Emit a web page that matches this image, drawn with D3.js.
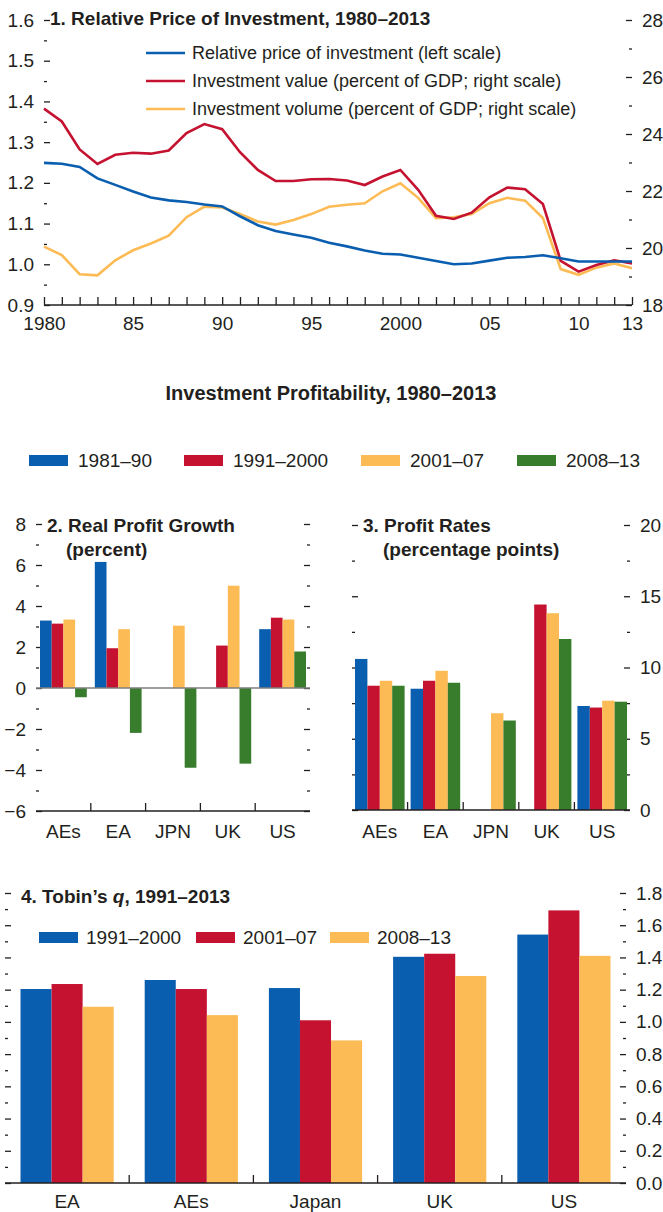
<!DOCTYPE html>
<html>
<head>
<meta charset="utf-8">
<script src="https://cdn.jsdelivr.net/npm/d3@7"></script>
<style>
  body { margin: 0; background: #fff; }
  svg text { font-family: "Liberation Sans Narrow", "Arial Narrow", sans-serif; fill: #231f20; }
  .eje line, .eje path { stroke: #231f20; stroke-width: 1.3; }
</style>
</head>
<body>
<svg id="graf" width="663" height="1212"></svg>
<script>
// -- Datos panel 1
anios = [1980,1981,1982,1983,1984,1985,1986,1987,1988,1989,1990,1991,1992,1993,1994,1995,1996,
         1997,1998,1999,2000,2001,2002,2003,2004,2005,2006,2007,2008,2009,2010,2011,2012,2013]
precioRel = [1.249,1.247,1.239,1.211,1.195,1.179,1.164,1.157,1.153,1.147,1.142,1.118,1.096,1.082,1.073,1.065,1.053,
             1.044,1.034,1.026,1.024,1.016,1.008,1.000,1.002,1.009,1.016,1.018,1.022,1.015,1.007,1.007,1.007,1.007]
invValor = [24.89,24.44,23.46,22.95,23.27,23.34,23.31,23.42,24.03,24.35,24.17,23.36,22.74,22.35,22.35,22.41,22.42,
            22.37,22.21,22.51,22.74,22.04,21.13,21.02,21.24,21.78,22.12,22.06,21.54,19.55,19.17,19.40,19.57,19.46]
invVolumen = [20.05,19.75,19.08,19.04,19.57,19.92,20.16,20.43,21.08,21.45,21.42,21.19,20.93,20.82,20.98,21.19,21.45,
              21.52,21.57,21.99,22.27,21.76,21.05,21.08,21.19,21.57,21.76,21.66,21.05,19.26,19.06,19.31,19.46,19.29]
leyenda1 = ['Relative price of investment (left scale)', 'Investment value (percent of GDP; right scale)', 'Investment volume (percent of GDP; right scale)']

// -- Datos paneles 2 y 3
periodos = ['1981–90', '1991–2000', '2001–07', '2008–13']
regiones = ['AEs', 'EA', 'JPN', 'UK', 'US']
crecimiento = [            // 1981–90, 1991–2000, 2001–07, 2008–13
  [3.29, 3.14, 3.34, -0.45],
  [6.15, 1.94, 2.87, -2.19],
  [null, null, 3.04, -3.89],
  [null, 2.07, 4.99, -3.69],
  [2.87, 3.43, 3.34, 1.78]
]
tasas = [
  [10.6, 8.72, 9.07, 8.72],
  [8.51, 9.07, 9.77, 8.93],
  [null, null, 6.79, 6.28],
  [null, 14.42, 13.81, 12.0],
  [7.30, 7.19, 7.67, 7.60]
]

// -- Datos panel 4
periodosQ = ['1991–2000', '2001–07', '2008–13']
paisesQ = ['EA', 'AEs', 'Japan', 'UK', 'US']
tobinQ = [
  [1.204, 1.235, 1.094],
  [1.260, 1.204, 1.042],
  [1.210, 1.010, 0.885],
  [1.404, 1.423, 1.285],
  [1.542, 1.692, 1.410]
]

azul = '#0a5eb0', rojo = '#c41230', naranja = '#fdbb55', verde = '#387d2c'
colores = [azul, rojo, naranja, verde]

svg = d3.select('#graf')
fnt = 19

// -- Ejes verticales con marcas hacia adentro
function ejeY(escala, x, lado, mayores, menores, etiquetas, fmt) {
  const dir = lado === 'left' ? d3.axisLeft : d3.axisRight
  const a = svg.append('g').attr('class', 'eje').attr('transform', `translate(${x},0)`)
    .call(dir(escala).tickValues(mayores).tickSize(-6).tickPadding(10)
      .tickFormat(etiquetas ? fmt : ''))
  a.select('.domain').remove()
  a.selectAll('text').style('font-size', `${fnt}px`)
  const b = svg.append('g').attr('class', 'eje').attr('transform', `translate(${x},0)`)
    .call(dir(escala).tickValues(menores).tickSize(-3).tickFormat(''))
  b.select('.domain').remove()
}

// ===================== Panel 1 =====================
x1 = d3.scaleLinear().domain([1980, 2013]).range([44, 632])
yIzq = d3.scaleLinear().domain([0.9, 1.6]).range([305, 20])
yDer = d3.scaleLinear().domain([18, 28]).range([305, 20])

ejeY(yIzq, 44, 'left', d3.range(0.9, 1.65, 0.1), d3.range(0.95, 1.6, 0.1), true, d3.format('.1f'))
ejeY(yDer, 632, 'right', d3.range(18, 29, 2), d3.range(19, 28, 2), true, d3.format('d'))

ejeX1 = svg.append('g').attr('class', 'eje').attr('transform', 'translate(0,305)')
  .call(d3.axisBottom(x1).tickValues(anios).tickSize(-8).tickPadding(12)
    .tickFormat(d => [1980, 1985, 1990, 1995, 2000, 2005, 2010, 2013].includes(d)
      ? (d === 1980 || d === 2000 ? d : String(d % 100).padStart(2, '0')) : ''))
ejeX1.selectAll('text').style('font-size', `${fnt}px`)
ejeX1.select('.domain').attr('d', 'M44,0H632')

series1 = [
  { v: invVolumen, y: yDer, c: naranja },
  { v: invValor, y: yDer, c: rojo },
  { v: precioRel, y: yIzq, c: azul }
]
series1.forEach(s => {
  svg.append('path')
    .datum(s.v)
    .attr('fill', 'none')
    .attr('stroke', s.c)
    .attr('stroke-width', 2.6)
    .attr('d', d3.line().x((d, i) => x1(anios[i])).y(d => s.y(d)))
})

svg.append('text').attr('x', 50).attr('y', 25)
  .attr('font-weight', 'bold').style('font-size', '19px')
  .text('1.  Relative Price of Investment, 1980–2013')

leyenda1.forEach((t, i) => {
  const yy = 53 + i * 28
  svg.append('line').attr('x1', 146).attr('x2', 185).attr('y1', yy).attr('y2', yy)
    .attr('stroke', [azul, rojo, naranja][i]).attr('stroke-width', 2.6)
  svg.append('text').attr('x', 192).attr('y', yy + 6).style('font-size', '18px').text(t)
})

// ===================== Título y leyenda común =====================
svg.append('text').attr('x', 331).attr('y', 400).attr('text-anchor', 'middle')
  .attr('font-weight', 'bold').style('font-size', '20px')
  .text('Investment Profitability, 1980–2013')

xLeg = [29, 184, 361, 517]
periodos.forEach((p, i) => {
  svg.append('rect').attr('x', xLeg[i]).attr('y', 455).attr('width', 39).attr('height', 11).attr('fill', colores[i])
  svg.append('text').attr('x', xLeg[i] + 49).attr('y', 467).style('font-size', '19px').text(p)
})

// -- Barras agrupadas
function barras(datos, cats, series, x0r, yEsc, padIn) {
  const x0 = d3.scaleBand().domain(cats).range(x0r)
  const xb = d3.scaleBand().domain(series).range([padIn, x0.bandwidth() - padIn])
  cats.forEach((c, i) => {
    series.forEach((s, j) => {
      const v = datos[i][j]
      if (v === null) return
      svg.append('rect')
        .attr('x', x0(c) + xb(s))
        .attr('width', xb.bandwidth())
        .attr('y', yEsc(Math.max(0, v)))
        .attr('height', Math.abs(yEsc(v) - yEsc(0)))
        .attr('fill', colores[j])
    })
  })
  return x0
}

function ejeCat(x0, y, yEtq, etiquetas) {
  const [a, b] = x0.range()
  svg.append('line').attr('x1', a).attr('x2', b).attr('y1', y).attr('y2', y)
    .attr('stroke', '#231f20').attr('stroke-width', 1.5)
  x0.domain().forEach((c, i) => {
    if (i > 0) svg.append('line').attr('x1', x0(c)).attr('x2', x0(c)).attr('y1', y).attr('y2', y - 8)
      .attr('stroke', '#231f20').attr('stroke-width', 1.3)
    svg.append('text').attr('x', x0(c) + x0.bandwidth() / 2).attr('y', yEtq)
      .attr('text-anchor', 'middle').style('font-size', `${fnt}px`).text(etiquetas[i])
  })
}

// ===================== Panel 2 =====================
y2 = d3.scaleLinear().domain([-6, 8]).range([811, 524])
ejeY(y2, 36, 'left', d3.range(-6, 9, 2), d3.range(-5, 8, 2), true, d3.format('d'))
ejeY(y2, 310, 'right', d3.range(-6, 9, 2), d3.range(-5, 8, 2), false)
x02 = barras(crecimiento, regiones, periodos, [36, 310], y2, 4)
svg.append('line').attr('x1', 36).attr('x2', 310).attr('y1', y2(0)).attr('y2', y2(0))
  .attr('stroke', '#7f7f7f').attr('stroke-width', 1.5)
ejeCat(x02, 811, 838, regiones)
svg.append('text').attr('x', 47).attr('y', 532).attr('font-weight', 'bold').style('font-size', '19px').text('2. Real Profit Growth')
svg.append('text').attr('x', 66).attr('y', 556).attr('font-weight', 'bold').style('font-size', '19px').text('(percent)')

// ===================== Panel 3 =====================
y3 = d3.scaleLinear().domain([0, 20]).range([810, 525])
ejeY(y3, 352, 'left', d3.range(0, 21, 5), d3.range(2.5, 20, 5), false)
ejeY(y3, 630, 'right', d3.range(0, 21, 5), d3.range(2.5, 20, 5), true, d3.format('d'))
x03 = barras(tasas, regiones, periodos, [352, 630], y3, 3)
ejeCat(x03, 810, 838, regiones)
svg.append('text').attr('x', 363).attr('y', 532).attr('font-weight', 'bold').style('font-size', '19px').text('3. Profit Rates')
svg.append('text').attr('x', 383).attr('y', 556).attr('font-weight', 'bold').style('font-size', '19px').text('(percentage points)')

// ===================== Panel 4 =====================
y4 = d3.scaleLinear().domain([0, 1.8]).range([1183, 893])
ejeY(y4, 5, 'left', d3.range(0, 1.85, 0.2), d3.range(0.1, 1.8, 0.2), false)
ejeY(y4, 626, 'right', d3.range(0, 1.85, 0.2), d3.range(0.1, 1.8, 0.2), true, d3.format('.1f'))
coloresQ = colores
x04 = barras(tobinQ, paisesQ, periodosQ, [5, 626], y4, 15.5)
ejeCat(x04, 1183, 1208, paisesQ)

t4 = svg.append('text').attr('x', 21).attr('y', 903).attr('font-weight', 'bold').style('font-size', '19px')
t4.append('tspan').text('4.  Tobin’s ')
t4.append('tspan').attr('font-style', 'italic').text('q')
t4.append('tspan').text(', 1991–2013')

xLeg4 = [39, 196, 330]
periodosQ.forEach((p, i) => {
  svg.append('rect').attr('x', xLeg4[i]).attr('y', 932).attr('width', 39).attr('height', 11).attr('fill', colores[i])
  svg.append('text').attr('x', xLeg4[i] + 47).attr('y', 944).style('font-size', '19px').text(p)
})
</script>
</body>
</html>
